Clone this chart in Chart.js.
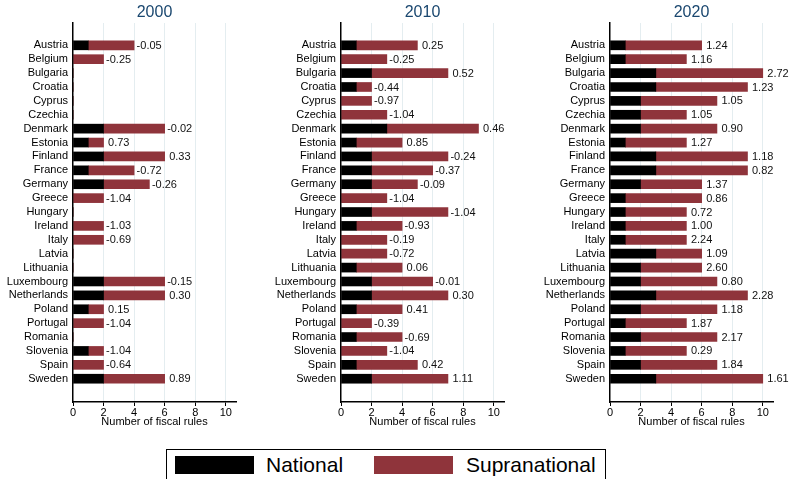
<!DOCTYPE html>
<html>
<head>
<meta charset="utf-8">
<script src="https://cdn.jsdelivr.net/npm/chart.js@4.4.0/dist/chart.umd.min.js"></script>
<style>
  html, body { margin: 0; padding: 0; background: #fff; overflow: hidden; }
  body { width: 789px; height: 479px; position: relative; font-family: "Liberation Sans", Arial, sans-serif; }
  canvas { position: absolute; top: 0; }
  #legend { position: absolute; left: 166px; top: 449px; width: 440px; height: 40px; border: 1px solid #000; box-sizing: border-box; }
  .swatch { position: absolute; top: 6px; width: 79px; height: 18px; }
  .ltext { position: absolute; top: 3px; font-size: 21px; color: #000; line-height: 24px; }
</style>
</head>
<body>
<canvas id="c2000" width="263" height="430" style="left:0px"></canvas>
<canvas id="c2010" width="263" height="430" style="left:263px"></canvas>
<canvas id="c2020" width="263" height="430" style="left:526px"></canvas>
<div id="legend">
  <div class="swatch" style="left:8px; background:#000"></div>
  <div class="ltext" style="left:99px">National</div>
  <div class="swatch" style="left:207px; background:#8f343b"></div>
  <div class="ltext" style="left:299px">Supranational</div>
</div>
<script>
// Données
const countries = ['Austria', 'Belgium', 'Bulgaria', 'Croatia', 'Cyprus', 'Czechia', 'Denmark', 'Estonia',
    'Finland', 'France', 'Germany', 'Greece', 'Hungary', 'Ireland', 'Italy', 'Latvia', 'Lithuania',
    'Luxembourg', 'Netherlands', 'Poland', 'Portugal', 'Romania', 'Slovenia', 'Spain', 'Sweden'];
const xTicks = [0, 2, 4, 6, 8, 10];

const national2000 = [1, 0, 0, 0, 0, 0, 2, 1, 2, 1, 2, 0, 0, 0, 0, 0, 0, 2, 2, 1, 0, 0, 1, 0, 2];
const supra2000    = [3, 2, 0, 0, 0, 0, 4, 1, 4, 3, 3, 2, 0, 2, 2, 0, 0, 4, 4, 1, 2, 0, 1, 2, 4];
const index2000 = ['-0.05', '-0.25', null, null, null, null, '-0.02', '0.73', '0.33', '-0.72', '-0.26', '-1.04', null,
    '-1.03', '-0.69', null, null, '-0.15', '0.30', '0.15', '-1.04', null, '-1.04', '-0.64', '0.89'];

const national2010 = [1, 0, 2, 1, 0, 0, 3, 1, 2, 2, 2, 0, 2, 1, 0, 0, 1, 2, 2, 1, 0, 1, 0, 1, 2];
const supra2010    = [4, 3, 5, 1, 2, 3, 6, 3, 5, 4, 3, 3, 5, 3, 3, 3, 3, 4, 5, 3, 2, 3, 3, 4, 5];
const index2010 = ['0.25', '-0.25', '0.52', '-0.44', '-0.97', '-1.04', '0.46', '0.85', '-0.24', '-0.37', '-0.09', '-1.04',
    '-1.04', '-0.93', '-0.19', '-0.72', '0.06', '-0.01', '0.30', '0.41', '-0.39', '-0.69', '-1.04', '0.42', '1.11'];

const national2020 = [1, 1, 3, 3, 2, 2, 2, 1, 3, 3, 2, 1, 1, 1, 1, 3, 2, 2, 3, 2, 1, 2, 1, 2, 3];
const supra2020    = [5, 4, 7, 6, 5, 3, 5, 4, 6, 6, 4, 5, 4, 4, 4, 3, 4, 5, 6, 5, 4, 5, 4, 5, 7];
const index2020 = ['1.24', '1.16', '2.72', '1.23', '1.05', '1.05', '0.90', '1.27', '1.18', '0.82', '1.37', '0.86',
    '0.72', '1.00', '2.24', '1.09', '2.60', '0.80', '2.28', '1.18', '1.87', '2.17', '0.29', '1.84', '1.61'];

const FONT = '"Liberation Sans", Arial, sans-serif';
const RED = '#8f343b';

// étiquettes à droite des barres
const valueLabels = {
    id: 'valueLabels',
    afterDatasetsDraw(chart, args, opts) {
        const ctx = chart.ctx;
        const xs = chart.scales.x, ys = chart.scales.y;
        ctx.save();
        ctx.font = '11px ' + FONT;
        ctx.fillStyle = '#111';
        ctx.textBaseline = 'middle';
        ctx.textAlign = 'left';
        opts.labels.forEach((lab, i) => {
            if (lab === null) return;
            const total = opts.nat[i] + opts.sup[i];
            const x = xs.getPixelForValue(total);
            const y = ys.getPixelForValue(i);
            const gap = lab[0] === '-' ? 2.5 : 4.5;
            ctx.fillText(lab, x + gap, y + 0.5);
        });
        ctx.restore();
    }
};

// titre centré sur la zone du graphique
const panelTitle = {
    id: 'panelTitle',
    afterDraw(chart, args, opts) {
        const ctx = chart.ctx;
        const a = chart.chartArea;
        ctx.save();
        ctx.font = '16px ' + FONT;
        ctx.fillStyle = '#1a476f';
        ctx.textAlign = 'center';
        ctx.textBaseline = 'middle';
        ctx.fillText(opts.text, (a.left + a.right) / 2, 13);
        ctx.restore();
    }
};

function makePanel(id, title, nat, sup, labels, axisWidth, padRight) {
    const ctx = document.getElementById(id).getContext('2d');
    return new Chart(ctx, {
        type: 'bar',
        data: {
            datasets: [
                { label: 'National', data: nat.map((v, i) => ({ x: v, y: i })), backgroundColor: '#000' },
                { label: 'Supranational', data: sup.map((v, i) => ({ x: v, y: i })), backgroundColor: RED }
            ]
        },
        options: {
            indexAxis: 'y',
            responsive: false,
            animation: false,
            datasets: { bar: { barThickness: 9, borderWidth: 0 } },
            layout: { padding: { top: 23, right: padRight, left: 0, bottom: 0 } },
            plugins: {
                legend: { display: false },
                tooltip: { enabled: false },
                valueLabels: { labels: labels, nat: nat, sup: sup },
                panelTitle: { text: title }
            },
            scales: {
                x: {
                    type: 'linear',
                    stacked: true,
                    min: 0,
                    max: 10.67,
                    afterBuildTicks: s => { s.ticks = xTicks.map(v => ({ value: v })); },
                    afterFit: s => { s.height = 28; },
                    grid: {
                        color: c => (c.tick && c.tick.value === 0) ? 'rgba(0,0,0,0)' : '#e4edf0',
                        tickColor: '#000',
                        tickLength: 4,
                        lineWidth: 1
                    },
                    border: { color: '#000', width: 1.5 },
                    ticks: { color: '#000', font: { family: FONT, size: 11 }, padding: 0, maxRotation: 0 },
                    title: {
                        display: true,
                        text: 'Number of fiscal rules',
                        color: '#000',
                        font: { family: FONT, size: 11 },
                        padding: { top: 0, bottom: 1 }
                    }
                },
                y: {
                    type: 'linear',
                    stacked: true,
                    reverse: true,
                    min: -1.06,
                    max: 25.13,
                    afterBuildTicks: s => { s.ticks = countries.map((c, i) => ({ value: i })); },
                    afterFit: s => { s.width = axisWidth; },
                    grid: { display: false, drawTicks: false },
                    border: { color: '#000', width: 1.5 },
                    ticks: {
                        autoSkip: false,
                        color: '#000',
                        font: { family: FONT, size: 11 },
                        padding: 5,
                        callback: v => countries[v]
                    }
                }
            }
        },
        plugins: [valueLabels, panelTitle]
    });
}

makePanel('c2000', '2000', national2000, supra2000, index2000, 73, 27);
makePanel('c2010', '2010', national2010, supra2010, index2010, 78, 22);
makePanel('c2020', '2020', national2020, supra2020, index2020, 84, 16);
</script>
</body>
</html>
